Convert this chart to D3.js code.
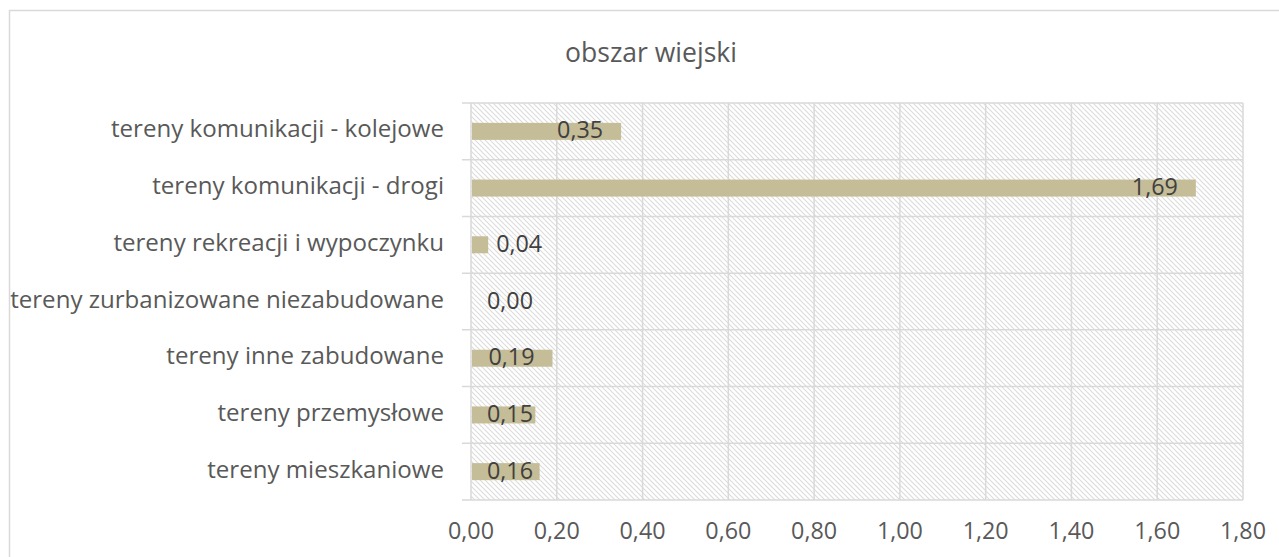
<!DOCTYPE html>
<html>
<head>
<meta charset="utf-8">
<script src="https://cdn.jsdelivr.net/npm/d3@7"></script>
<style>
  body { margin: 0; background: #fff; }
  svg text { font-family: "Open Sans", "Noto Sans", sans-serif; }
</style>
</head>
<body>
<svg id="chart" width="1279" height="557"></svg>
<script>
const categories = [
    'tereny komunikacji - kolejowe',
    'tereny komunikacji - drogi',
    'tereny rekreacji i wypoczynku',
    'tereny zurbanizowane niezabudowane',
    'tereny inne zabudowane',
    'tereny przemysłowe',
    'tereny mieszkaniowe',
];
const values = [0.35, 1.69, 0.04, 0.00, 0.19, 0.15, 0.16];
const xTicks = [0, 0.2, 0.4, 0.6, 0.8, 1.0, 1.2, 1.4, 1.6, 1.8];
const title = 'obszar wiejski';

const svg = d3.select('#chart');
const margin = { left: 471, right: 36, top: 103, bottom: 57 };
const W = 1279;
const H = 557;
const fmt = (d) => d3.format('.2f')(d).replace('.', ',');

// pick a font size so a text spans the width seen in the reference
function fitSize(str, target, base) {
    const t = svg.append('text').attr('font-size', base).text(str);
    const w = t.node().getComputedTextLength();
    t.remove();
    return base * target / w;
}
const labelSize = fitSize('tereny zurbanizowane niezabudowane', 434, 20);
const titleSize = fitSize(title, 172, 24);
const numSize = fitSize('0,35', 46, 20);

// hatch fill for the plot area
const defs = svg.append('defs');
const pat = defs.append('pattern')
    .attr('id', 'hatch')
    .attr('patternUnits', 'userSpaceOnUse')
    .attr('width', 5)
    .attr('height', 5);
pat.append('path')
    .attr('d', 'M-1,-1 L6,6 M-1,4 L1,6 M4,-1 L6,1')
    .attr('stroke', '#dcdcdc')
    .attr('stroke-width', 1.1);

// outer chart frame (runs off the bottom/right edge)
svg.append('rect')
    .attr('x', 9.5).attr('y', 10.5)
    .attr('width', 1400).attr('height', 700)
    .attr('fill', 'none')
    .attr('stroke', '#d9d9d9')
    .attr('stroke-width', 1.5);

const x = d3.scaleLinear()
    .domain([0, 1.8])
    .range([margin.left, W - margin.right]);
const y = d3.scaleBand()
    .domain(categories)
    .range([margin.top, H - margin.bottom])
    .paddingInner(0.7)
    .paddingOuter(0.35);

svg.append('rect')
    .attr('x', x(0)).attr('y', margin.top)
    .attr('width', x(1.8) - x(0))
    .attr('height', H - margin.bottom - margin.top)
    .attr('fill', 'url(#hatch)');

// vertical gridlines
svg.append('g')
    .selectAll('line')
    .data(xTicks)
    .join('line')
    .attr('x1', (d) => x(d)).attr('x2', (d) => x(d))
    .attr('y1', margin.top).attr('y2', H - margin.bottom)
    .attr('stroke', '#d9d9d9')
    .attr('stroke-width', 1.5);

// category separators with outside ticks
const step = (H - margin.bottom - margin.top) / categories.length;
svg.append('g')
    .selectAll('line')
    .data(d3.range(categories.length + 1))
    .join('line')
    .attr('x1', x(0) - 9).attr('x2', x(1.8))
    .attr('y1', (i) => margin.top + i * step)
    .attr('y2', (i) => margin.top + i * step)
    .attr('stroke', '#d9d9d9')
    .attr('stroke-width', 1.5);

// bars
svg.append('g')
    .selectAll('rect')
    .data(values)
    .join('rect')
    .attr('x', x(0) + 1)
    .attr('y', (d, i) => y(categories[i]))
    .attr('width', (d) => Math.max(0, x(d) - x(0) - 1))
    .attr('height', y.bandwidth())
    .attr('fill', '#c4bd97');

// data labels
svg.append('g')
    .selectAll('text')
    .data(values)
    .join('text')
    .attr('x', (d) => {
        const end = x(d);
        if (d > 0 && end - x(0) < 20) return end + 8;
        return Math.max(end - 18 - 46, x(0) + 16);
    })
    .attr('y', (d, i) => y(categories[i]) + y.bandwidth() / 2 + 7)
    .attr('font-size', numSize)
    .attr('fill', '#404040')
    .text((d) => fmt(d));

// category labels
svg.append('g')
    .selectAll('text')
    .data(categories)
    .join('text')
    .attr('x', 444)
    .attr('y', (d) => y(d) + y.bandwidth() / 2 + 6)
    .attr('text-anchor', 'end')
    .attr('font-size', labelSize)
    .attr('fill', '#595959')
    .text((d) => d);

// x tick labels
svg.append('g')
    .selectAll('text')
    .data(xTicks)
    .join('text')
    .attr('x', (d) => x(d))
    .attr('y', 539)
    .attr('text-anchor', 'middle')
    .attr('font-size', numSize)
    .attr('fill', '#595959')
    .text((d) => fmt(d));

svg.append('text')
    .attr('x', 651)
    .attr('y', 62)
    .attr('text-anchor', 'middle')
    .attr('font-size', titleSize)
    .attr('fill', '#595959')
    .text(title);
</script>
</body>
</html>
